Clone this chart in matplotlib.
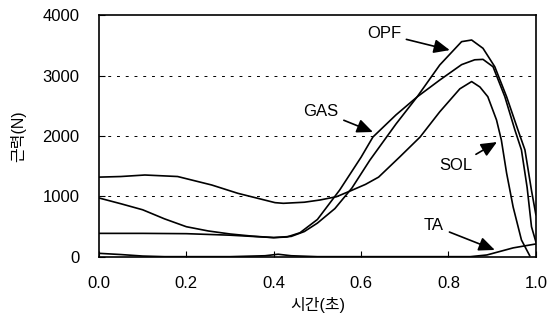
import matplotlib
matplotlib.use("Agg")
import matplotlib.pyplot as plt

plt.rcParams['font.family'] = ['Liberation Sans', 'Noto Sans CJK KR']

# curve data (time in s, force in N)
sol_t = [0, 0.05, 0.105, 0.18, 0.258, 0.318, 0.403, 0.422, 0.47, 0.506, 0.544, 0.578, 0.61,
         0.64, 0.689, 0.735, 0.78, 0.826, 0.853, 0.872, 0.89, 0.91, 0.921, 0.933, 0.948,
         0.967, 0.986]
sol_f = [1320, 1330, 1355, 1330, 1190, 1052, 898, 887, 905, 942, 997, 1100, 1200,
         1320, 1658, 1983, 2400, 2780, 2900, 2810, 2650, 2264, 1934, 1388, 826,
         281, 20]

gas_t = [0, 0.05, 0.1, 0.15, 0.2, 0.25, 0.3, 0.35, 0.4, 0.43, 0.46, 0.5, 0.551, 0.6, 0.627,
         0.68, 0.728, 0.78, 0.83, 0.86, 0.879, 0.902, 0.929, 0.952, 0.967, 0.98, 0.99, 1.0]
gas_f = [975, 880, 780, 630, 500, 430, 380, 345, 320, 330, 400, 620, 1107, 1650, 1983,
         2350, 2645, 2925, 3180, 3260, 3267, 3145, 2650, 2100, 1770, 1150, 500, 250]

opf_t = [0, 0.1, 0.2, 0.3, 0.35, 0.4, 0.44, 0.47, 0.5, 0.54, 0.579, 0.62, 0.68, 0.728, 0.78,
         0.83, 0.853, 0.879, 0.906, 0.933, 0.959, 0.975, 0.99, 1.0]
opf_f = [390, 390, 385, 360, 340, 320, 340, 420, 560, 800, 1140, 1600, 2200, 2645, 3174,
         3560, 3587, 3450, 3145, 2650, 2100, 1770, 1100, 700]

ta_t = [0, 0.05, 0.1, 0.15, 0.3, 0.38, 0.41, 0.44, 0.5, 0.85, 0.888, 0.948, 1.0]
ta_f = [60, 40, 15, 5, 5, 20, 45, 20, 5, 5, 33, 150, 215]

fig = plt.figure(figsize=(5.53, 3.2), dpi=100)
ax = fig.add_axes([0.179, 0.197, 0.79, 0.756])

for t, f in [(sol_t, sol_f), (gas_t, gas_f), (opf_t, opf_f), (ta_t, ta_f)]:
    ax.plot(t, f, color='black', lw=1.2)

ax.set_xlim(0, 1.0)
ax.set_ylim(0, 4000)
ax.set_xticks([0, 0.2, 0.4, 0.6, 0.8, 1.0])
ax.set_yticks([0, 1000, 2000, 3000, 4000])
ax.set_xticklabels(['0.0', '0.2', '0.4', '0.6', '0.8', '1.0'])
ax.tick_params(direction='in', length=4, labelsize=12, width=0.8)
ax.tick_params(axis='x', pad=14)
ax.tick_params(axis='y', pad=14)
for y in [1000, 2000, 3000]:
    ax.axhline(y, color='black', lw=0.7, ls=(0, (3, 6)))
for s in ax.spines.values():
    s.set_linewidth(1.2)

ax.set_xlabel('시간(초)', fontsize=11.5, labelpad=4)
ax.set_ylabel('근력(N)', fontsize=11.5, labelpad=12)

arrow = dict(arrowstyle='-|>,head_length=0.8,head_width=0.35', color='black', lw=1.2,
             shrinkA=2, shrinkB=0)
ax.annotate('OPF', xy=(0.803, 3420), xytext=(0.652, 3690), fontsize=12,
            ha='center', va='center', arrowprops=arrow)
ax.annotate('GAS', xy=(0.627, 2066), xytext=(0.508, 2413), fontsize=12,
            ha='center', va='center', arrowprops=arrow)
ax.annotate('SOL', xy=(0.911, 1900), xytext=(0.817, 1504), fontsize=12,
            ha='center', va='center', arrowprops=arrow)
ax.annotate('TA', xy=(0.906, 116), xytext=(0.767, 512), fontsize=12,
            ha='center', va='center', arrowprops=arrow)

fig.savefig('out.png', dpi=100)
